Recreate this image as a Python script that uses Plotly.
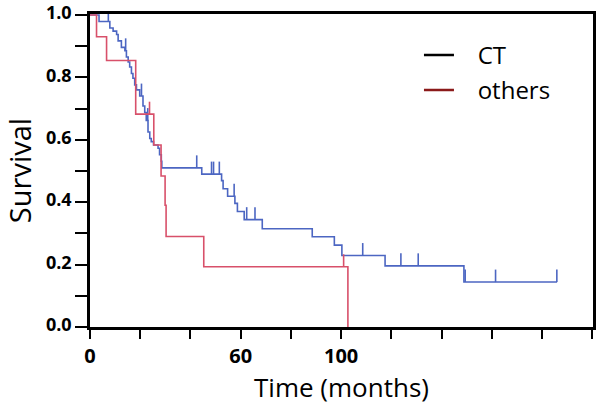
import plotly.graph_objects as go

# ---- data ----
ct_time = [0, 3.6, 7.9, 9.2, 10.6, 11.2, 12.5, 13.9, 14.5, 15.2, 15.8, 16.5, 17.1, 17.8,
           18.5, 19.8, 21.1, 21.8, 22.4, 23.1, 23.8, 24.4, 25.3, 27.1, 27.7, 28.4, 28.6,
           44.5, 52.4, 53.0, 54.8, 57.7, 58.7, 61.4, 68.6, 88.5, 97.3, 100.3, 117.5,
           148.9, 186.0]
ct_surv = [1.0, 0.979, 0.958, 0.948, 0.9375, 0.917, 0.896, 0.885, 0.865, 0.849, 0.833,
           0.8125, 0.797, 0.776, 0.76, 0.74, 0.708, 0.6875, 0.6615, 0.625, 0.604, 0.594,
           0.583, 0.573, 0.552, 0.531, 0.51, 0.49, 0.469, 0.443, 0.419, 0.396, 0.37,
           0.344, 0.315, 0.289, 0.2625, 0.229, 0.196, 0.144, 0.144]
ct_censor = [7.3, 14.2, 20.5, 23.0, 42.5, 48.4, 49.2, 51.5, 57.4, 62.4, 65.7, 108.6,
             123.8, 130.7, 149.4, 161.5, 185.9]

others_time = [0, 2.6, 6.6, 18.2, 25.4, 28.3, 29.9, 30.3, 45.3, 102.7, 102.7]
others_surv = [1.0, 0.93, 0.854, 0.682, 0.583, 0.484, 0.39, 0.29, 0.193, 0.0, 0.0]
others_censor = [23.7, 101.0]

x_tick_vals = [0, 20, 40, 60, 80, 100, 120, 140, 160, 180, 200]
x_tick_text = ["0", "", "", "60", "", "100", "", "", "", "", ""]
y_tick_vals = [0.0, 0.2, 0.4, 0.6, 0.8, 1.0]
y_tick_text = ["0.0", "0.2", "0.4", "0.6", "0.8", "1.0"]

series_names = ["CT", "others"]
legend_colors = ["black", "#8b1a1a"]
curve_colors = ["#4c66c2", "#d8506a"]
TICK_H = 0.04
NB = "\u00a0"


def surv_at(times, survs, t):
    s = survs[0]
    for ti, si in zip(times, survs):
        if ti <= t:
            s = si
        else:
            break
    return s


def censor_segments(times, survs, cens):
    xs, ys = [], []
    for c in cens:
        s = surv_at(times, survs, c)
        xs += [c, c, None]
        ys += [s, s + TICK_H, None]
    return xs, ys


fig = go.Figure()
for name, t, s, cen, col in [
    (series_names[0], ct_time, ct_surv, ct_censor, curve_colors[0]),
    (series_names[1], others_time, others_surv, others_censor, curve_colors[1]),
]:
    fig.add_trace(go.Scatter(x=t, y=s, mode="lines", line=dict(color=col, width=1.6, shape="hv"),
                             showlegend=False, hoverinfo="skip"))
    cx, cy = censor_segments(t, s, cen)
    fig.add_trace(go.Scatter(x=cx, y=cy, mode="lines", line=dict(color=col, width=1.6),
                             showlegend=False, hoverinfo="skip"))

for i, (name, col) in enumerate(zip(series_names, legend_colors)):
    fig.add_trace(go.Scatter(x=[None], y=[None], mode="lines", name=NB * 3 + name,
                             line=dict(color=col, width=2.5), legendgroup=f"g{i}"))

fig.update_layout(
    width=600, height=412,
    margin=dict(l=90, r=7, t=14, b=85),
    paper_bgcolor="white", plot_bgcolor="white",
    font=dict(family="Open Sans", color="black"),
    legend=dict(x=0.654, y=0.94, xanchor="left", yanchor="top", bgcolor="rgba(0,0,0,0)",
                font=dict(family="Open Sans", size=24, color="black"), tracegroupgap=1),
    xaxis=dict(range=[0, 200.3], tickvals=x_tick_vals, ticktext=x_tick_text,
               ticks="outside", ticklen=9, tickwidth=2, tickcolor="black",
               showline=True, linewidth=2.5, linecolor="black", mirror=True,
               showgrid=False, zeroline=False, automargin=False, ticklabeloverflow="allow",
               tickfont=dict(family="Open Sans", size=20, weight="bold"),
               title=dict(text=NB * 3 + "Time (months)", font=dict(family="Open Sans", size=26), standoff=10)),
    yaxis=dict(range=[0, 1.003], tickvals=y_tick_vals, ticktext=y_tick_text,
               ticks="outside", ticklen=12, tickwidth=2, tickcolor="black",
               minor=dict(ticks="outside", dtick=0.1, tick0=0, ticklen=12, tickwidth=2, tickcolor="black"),
               showline=True, linewidth=2.5, linecolor="black", mirror=True,
               showgrid=False, zeroline=False, automargin=False, ticklabeloverflow="allow",
               ticklabelshift=-2,
               tickfont=dict(family="Open Sans", size=18, weight="bold"),
               title=dict(text="Survival", font=dict(family="Open Sans", size=29), standoff=14)),
)

fig.write_html("out.html", config={"displayModeBar": False},
               post_script="document.body.style.margin='0';document.body.style.padding='0';")
